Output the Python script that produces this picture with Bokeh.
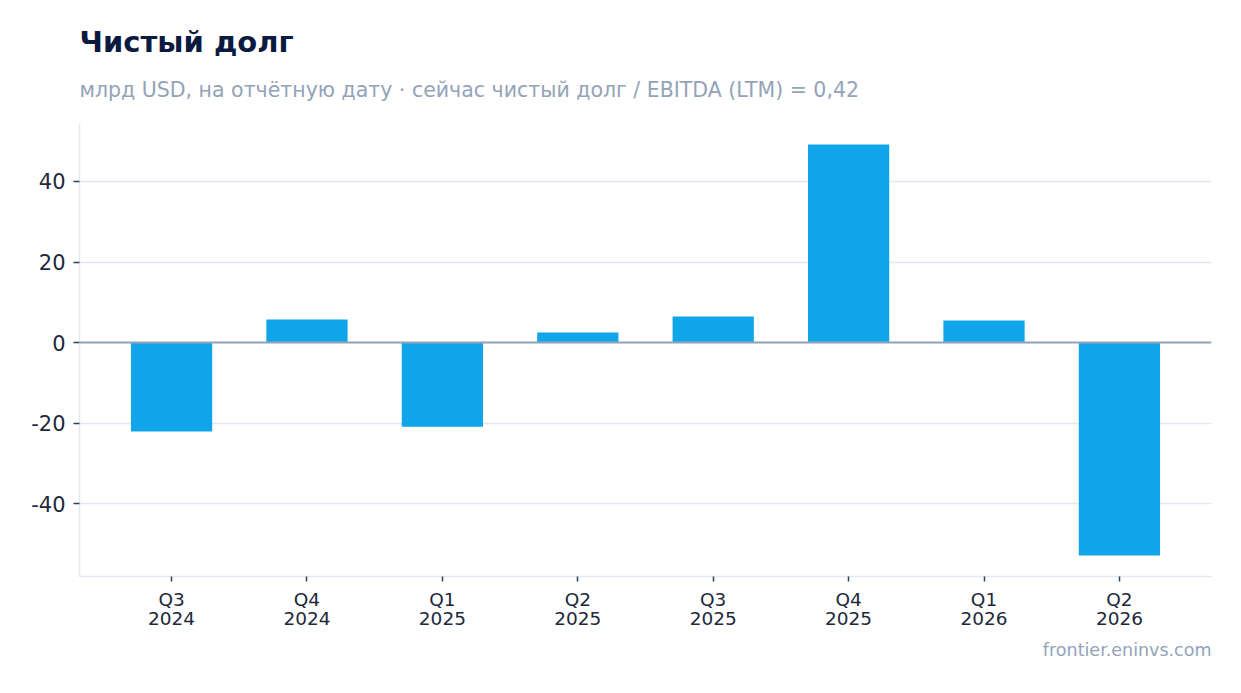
from bokeh.plotting import figure
from bokeh.models import Range1d, FixedTicker, Title, Span
from bokeh.embed import file_html
from bokeh.resources import INLINE

quarters = ["Q3", "Q4", "Q1", "Q2", "Q3", "Q4", "Q1", "Q2"]
years = ["2024", "2024", "2025", "2025", "2025", "2025", "2026", "2026"]
net_debt = [-22.1, 5.7, -20.9, 2.5, 6.5, 49.2, 5.5, -52.9]
y_ticks = [-40, -20, 0, 20, 40]

FONT = "DejaVu Sans"
xs = list(range(len(net_debt)))
labels = {i: f"{q}\n{y}" for i, (q, y) in enumerate(zip(quarters, years))}
y_labels = {t: str(t) for t in y_ticks}

p = figure(width=1225, height=677, output_backend="svg", toolbar_location=None,
           x_range=Range1d(-0.68, len(xs) - 1 + 0.68), y_range=Range1d(-58.1, 54.4),
           min_border_left=79, min_border_right=14, min_border_bottom=101, min_border_top=123)
p.outline_line_color = None
p.background_fill_color = "white"
p.border_fill_color = "white"

p.vbar(x=xs, top=net_debt, bottom=0, width=0.6, color="#0ea5e9", line_color=None)

p.add_layout(Span(location=0, dimension="width", line_color="#94a3b8", line_width=2))

p.xgrid.grid_line_color = None
p.ygrid.grid_line_color = "#e2e8f0"
p.ygrid.grid_line_width = 1.5

p.yaxis.ticker = FixedTicker(ticks=y_ticks)
p.yaxis.major_label_overrides = y_labels
p.yaxis.axis_line_color = "#e2e8f0"
p.yaxis.axis_line_width = 1.5
p.yaxis.major_tick_line_color = "#334155"
p.yaxis.major_tick_line_width = 1.5
p.yaxis.major_tick_out = 6
p.yaxis.major_tick_in = 0
p.yaxis.minor_tick_line_color = None
p.yaxis.major_label_text_font = FONT
p.yaxis.major_label_text_font_size = "21px"
p.yaxis.major_label_text_color = "#1e293b"
p.yaxis.major_label_standoff = 8

p.xaxis.ticker = FixedTicker(ticks=xs)
p.xaxis.major_label_overrides = labels
p.xaxis.axis_line_color = "#e2e8f0"
p.xaxis.axis_line_width = 1.5
p.xaxis.major_tick_line_color = "#334155"
p.xaxis.major_tick_line_width = 1.5
p.xaxis.major_tick_out = 5
p.xaxis.major_tick_in = 0
p.xaxis.minor_tick_line_color = None
p.xaxis.major_label_text_font = FONT
p.xaxis.major_label_text_font_size = "18.5px"
p.xaxis.major_label_text_line_height = 0.92
p.xaxis.major_label_text_color = "#1e293b"
p.xaxis.major_label_standoff = 7

p.add_layout(Title(text="frontier.eninvs.com", align="right", text_font=FONT,
                   text_font_size="17.5px", text_font_style="normal",
                   text_color="#94a3b8", standoff=13), "below")

# spacer between frame and subtitle
p.add_layout(Title(text=" ", align="left", text_font=FONT, text_font_size="1px",
                   standoff=14), "above")
p.add_layout(Title(text="млрд USD, на отчётную дату · сейчас чистый долг / EBITDA (LTM) = 0,42",
                   align="left", text_font=FONT, text_font_size="20.5px",
                   text_font_style="normal", text_color="#94a3b8", standoff=9), "above")
p.add_layout(Title(text="Чистый долг", align="left", text_font=FONT,
                   text_font_size="29px", text_font_style="bold",
                   text_color="#0b1a3f", standoff=25), "above")

open("out.html", "w").write(file_html(p, INLINE))
